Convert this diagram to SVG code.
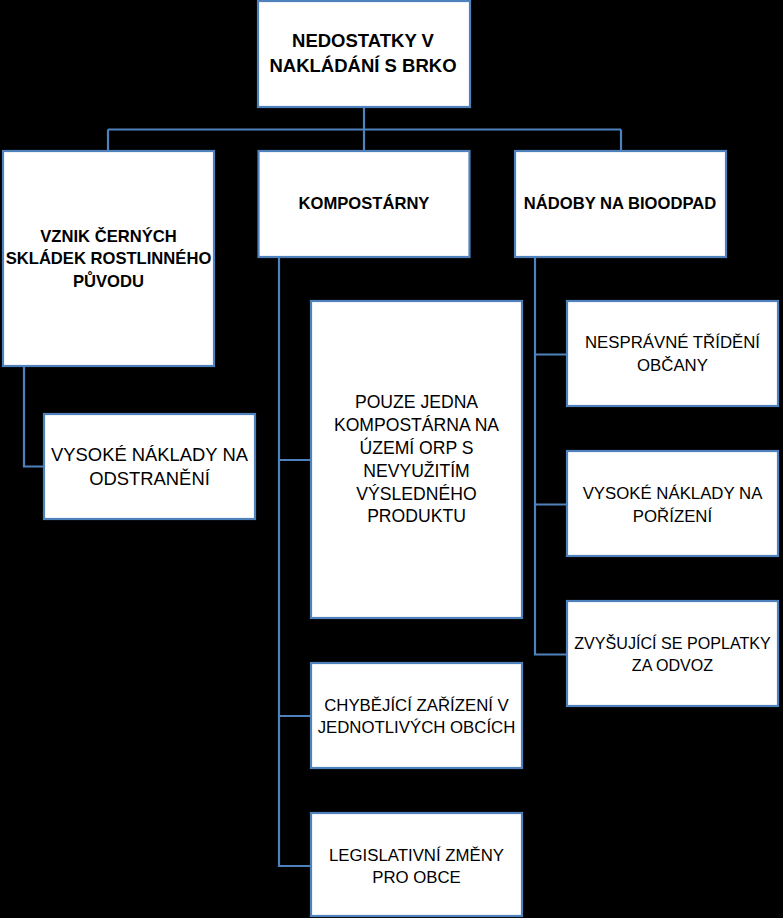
<svg xmlns="http://www.w3.org/2000/svg" width="783" height="918" viewBox="0 0 783 918">
<style>
.box{fill:#fff;stroke:#4F81BD;stroke-width:2.2}
.con{fill:none;stroke:#4F81BD;stroke-width:2.2}
text{font-family:"Liberation Sans",Arial,sans-serif;fill:#000;text-anchor:middle}
.b{font-weight:bold;font-size:16.6px}
.bt{font-weight:bold;font-size:18.5px}
.r{font-size:16.8px}
.rl{font-size:18.4px}
.rm{font-size:17.6px}
.rs{font-size:16.1px}
</style>
<rect x="0" y="0" width="783" height="918" fill="#000"/>
<g id="connectors">
<path class="con" d="M364,107V129.5M108,129.5H621M108,129.5V151M364,129.5V151M621,129.5V151"/>
<path class="con" d="M24,366V466.5H44"/>
<path class="con" d="M279,257V866H311M279,460H311M279,716H311"/>
<path class="con" d="M535,257V654.5H567M535,354.5H567M535,504.5H567"/>
</g>
<g id="root">
<rect class="box" x="258" y="1" width="212" height="106"/>
<text class="bt" x="363" y="46.7">NEDOSTATKY V</text>
<text class="bt" x="363" y="71.7">NAKLÁDÁNÍ S BRKO</text>
</g>
<g id="vznik">
<rect class="box" x="3" y="151" width="211" height="215"/>
<text class="b" x="108.5" y="241.7">VZNIK ČERNÝCH</text>
<text class="b" x="108.5" y="264">SKLÁDEK ROSTLINNÉHO</text>
<text class="b" x="108.5" y="286.7">PŮVODU</text>
</g>
<g id="kompostarny">
<rect class="box" x="258.5" y="151" width="211" height="106"/>
<text class="b" x="364" y="209.3">KOMPOSTÁRNY</text>
</g>
<g id="nadoby">
<rect class="box" x="515" y="151" width="211" height="106"/>
<text class="b" x="620" y="209.3">NÁDOBY NA BIOODPAD</text>
</g>
<g id="naklady-odstraneni">
<rect class="box" x="44" y="414" width="211" height="105"/>
<text class="rl" x="149.5" y="461">VYSOKÉ NÁKLADY NA</text>
<text class="rl" x="149.5" y="485">ODSTRANĚNÍ</text>
</g>
<g id="pouze-jedna">
<rect class="box" x="311" y="301" width="211" height="317"/>
<text class="rm" x="416.5" y="408.3">POUZE JEDNA</text>
<text class="rm" x="416.5" y="431.1">KOMPOSTÁRNA NA</text>
<text class="rm" x="416.5" y="453.9">ÚZEMÍ ORP S</text>
<text class="rm" x="416.5" y="476.7">NEVYUŽITÍM</text>
<text class="rm" x="416.5" y="499.5">VÝSLEDNÉHO</text>
<text class="rm" x="416.5" y="522.3">PRODUKTU</text>
</g>
<g id="chybejici">
<rect class="box" x="311" y="663" width="211" height="105"/>
<text class="r" x="416.5" y="710.7">CHYBĚJÍCÍ ZAŘÍZENÍ V</text>
<text class="r" x="416.5" y="733.3">JEDNOTLIVÝCH OBCÍCH</text>
</g>
<g id="legislativni">
<rect class="box" x="311" y="813" width="211" height="103"/>
<text class="r" x="416.5" y="860.7">LEGISLATIVNÍ ZMĚNY</text>
<text class="r" x="416.5" y="882.7">PRO OBCE</text>
</g>
<g id="nespravne">
<rect class="box" x="567" y="301" width="211" height="105"/>
<text class="r" x="672.5" y="348.3">NESPRÁVNÉ TŘÍDĚNÍ</text>
<text class="r" x="672.5" y="371">OBČANY</text>
</g>
<g id="naklady-porizeni">
<rect class="box" x="567" y="451" width="211" height="105"/>
<text class="r" x="672.5" y="499">VYSOKÉ NÁKLADY NA</text>
<text class="r" x="672.5" y="521.7">POŘÍZENÍ</text>
</g>
<g id="poplatky">
<rect class="box" x="567" y="601" width="211" height="105"/>
<text class="rs" x="672.5" y="648.7">ZVYŠUJÍCÍ SE POPLATKY</text>
<text class="rs" x="672.5" y="670.7">ZA ODVOZ</text>
</g>
</svg>
